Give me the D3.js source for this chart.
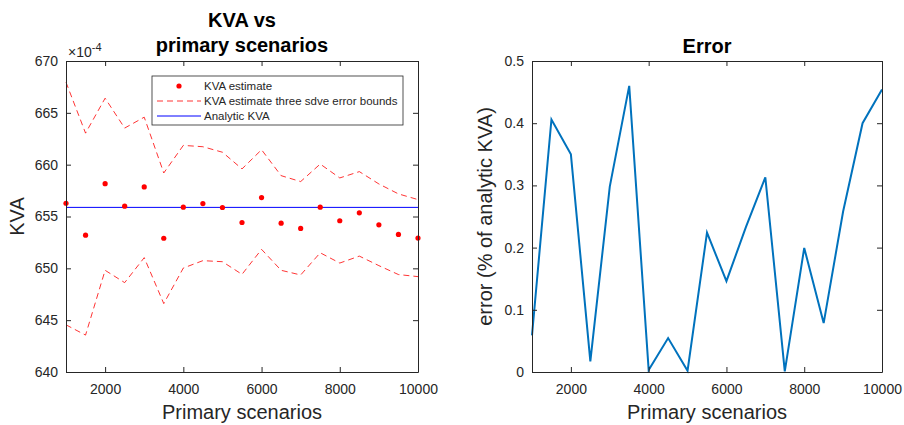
<!DOCTYPE html>
<meta charset="utf-8">
<head>
<script src="https://d3js.org/d3.v7.min.js"></script>
<style>
  body { margin: 0; background: #fff; }
  text { font-family: "Liberation Sans", Arial, sans-serif; }
</style>
</head>
<body>
<div id="chart"></div>
<script>
// data
var scenarios = [1000,1500,2000,2500,3000,3500,4000,4500,5000,5500,6000,6500,7000,7500,8000,8500,9000,9500,10000];
var kvaEstimate = [656.28,653.2,658.17,656.0,657.85,652.9,655.9,656.25,655.87,654.42,656.83,654.36,653.85,655.9,654.59,655.35,654.2,653.27,652.92];
var upperBound = [667.95,663.04,666.41,663.53,664.58,659.2,661.86,661.73,661.2,659.59,661.44,658.94,658.37,660.06,658.72,659.33,658.14,657.18,656.63];
var lowerBound = [644.55,643.56,649.81,648.62,651.03,646.6,650.03,650.74,650.64,649.42,651.83,649.81,649.36,651.5,650.51,651.18,650.26,649.4,649.2];
var analyticKVA = 655.88;
var errorPct = [0.059,0.406,0.350,0.017,0.298,0.460,0.003,0.0545,0.002,0.224,0.146,0.233,0.313,0.001,0.1995,0.0786,0.258,0.40,0.454];
var xTicks = [2000,4000,6000,8000,10000];
var kvaTicks = [640,645,650,655,660,665,670];
var errTicks = [0,0.1,0.2,0.3,0.4,0.5];

var svg = d3.select("#chart").append("svg")
  .attr("width", 904).attr("height", 425);

var axisColor = "#262626";

// matlab style box with inward ticks
function drawBox(g, x, y, xt, yt, yfmt) {
  var w = x.range()[1], h = y.range()[0];
  g.append("g").attr("transform", "translate(0," + h + ")")
    .call(d3.axisBottom(x).tickValues(xt).tickSizeInner(-5).tickSizeOuter(0).tickPadding(12).tickFormat(d3.format("d")));
  g.append("g").call(d3.axisTop(x).tickValues(xt).tickSizeInner(-5).tickSizeOuter(0).tickFormat(""));
  g.append("g")
    .call(d3.axisLeft(y).tickValues(yt).tickSizeInner(-5).tickSizeOuter(0).tickPadding(8).tickFormat(yfmt));
  g.append("g").attr("transform", "translate(" + w + ",0)")
    .call(d3.axisRight(y).tickValues(yt).tickSizeInner(-5).tickSizeOuter(0).tickFormat(""));
  g.selectAll(".domain").attr("stroke", axisColor).attr("stroke-width", 1);
  g.selectAll(".tick line").attr("stroke", axisColor);
  g.selectAll(".tick text").attr("fill", axisColor).style("font-size", "14px")
    .style("font-family", "Liberation Sans, Arial, sans-serif");
}

// ---------- left panel ----------
var L = {left: 66, top: 61, w: 352, h: 311};
var g1 = svg.append("g").attr("transform", "translate(" + L.left + "," + L.top + ")");
var x1 = d3.scaleLinear().domain([1000, 10000]).range([0, L.w]);
var y1 = d3.scaleLinear().domain([640, 670]).range([L.h, 0]);

var line1 = function(arr) {
  return d3.line().x(function(d, i) { return x1(scenarios[i]); }).y(function(d) { return y1(d); })(arr);
};

g1.append("path").attr("d", line1(upperBound)).attr("fill", "none")
  .attr("stroke", "#ff0000").attr("stroke-width", 0.8).attr("stroke-dasharray", "6,4");
g1.append("path").attr("d", line1(lowerBound)).attr("fill", "none")
  .attr("stroke", "#ff0000").attr("stroke-width", 0.8).attr("stroke-dasharray", "6,4");
g1.append("line")
  .attr("x1", x1(1000)).attr("x2", x1(10000))
  .attr("y1", y1(analyticKVA)).attr("y2", y1(analyticKVA))
  .attr("stroke", "#0000ff").attr("stroke-width", 1);
g1.selectAll(".pt").data(kvaEstimate).enter().append("circle")
  .attr("cx", function(d, i) { return x1(scenarios[i]); })
  .attr("cy", function(d) { return y1(d); })
  .attr("r", 2.6).attr("fill", "#ff0000");

drawBox(g1, x1, y1, xTicks, kvaTicks, d3.format("d"));

// exponent label
g1.append("text").attr("x", 2).attr("y", -4).attr("fill", axisColor)
  .style("font-size", "14px").text("\u00d710").append("tspan")
  .attr("dy", -6).style("font-size", "11px").text("-4");

// legend
var leg = g1.append("g").attr("transform", "translate(86,15)");
leg.append("rect").attr("width", 251).attr("height", 49).attr("fill", "#fff")
  .attr("stroke", axisColor).attr("stroke-width", 0.8);
leg.append("circle").attr("cx", 27).attr("cy", 10).attr("r", 2.6).attr("fill", "#ff0000");
leg.append("line").attr("x1", 5).attr("x2", 49).attr("y1", 25).attr("y2", 25)
  .attr("stroke", "#ff0000").attr("stroke-width", 0.8).attr("stroke-dasharray", "6,4");
leg.append("line").attr("x1", 5).attr("x2", 49).attr("y1", 40).attr("y2", 40)
  .attr("stroke", "#0000ff").attr("stroke-width", 1);
var legLabels = ["KVA estimate", "KVA estimate three sdve error bounds", "Analytic KVA"];
leg.selectAll(".lt").data(legLabels).enter().append("text")
  .attr("x", 52).attr("y", function(d, i) { return 14 + i * 15; })
  .attr("fill", axisColor).style("font-size", "11.5px").text(function(d) { return d; });

// titles and labels
g1.append("text").attr("x", L.w / 2).attr("y", -34).attr("text-anchor", "middle")
  .style("font-size", "20px").style("font-weight", "bold").attr("fill", "#000").text("KVA vs");
g1.append("text").attr("x", L.w / 2).attr("y", -9).attr("text-anchor", "middle")
  .style("font-size", "20px").style("font-weight", "bold").attr("fill", "#000").text("primary scenarios");
g1.append("text").attr("x", L.w / 2).attr("y", L.h + 47).attr("text-anchor", "middle")
  .style("font-size", "20px").attr("fill", axisColor).text("Primary scenarios");
g1.append("text").attr("transform", "translate(-42," + (L.h / 2) + ") rotate(-90)")
  .attr("text-anchor", "middle").style("font-size", "20px").attr("fill", axisColor).text("KVA");

// ---------- right panel ----------
var R = {left: 532, top: 61, w: 350, h: 311};
var g2 = svg.append("g").attr("transform", "translate(" + R.left + "," + R.top + ")");
var x2 = d3.scaleLinear().domain([1000, 10000]).range([0, R.w]);
var y2 = d3.scaleLinear().domain([0, 0.5]).range([R.h, 0]);

g2.append("path")
  .attr("d", d3.line().x(function(d, i) { return x2(scenarios[i]); }).y(function(d) { return y2(d); })(errorPct))
  .attr("fill", "none").attr("stroke", "#0072bd").attr("stroke-width", 2).attr("stroke-linejoin", "miter");

drawBox(g2, x2, y2, xTicks, errTicks, function(d) { return d === 0 ? "0" : d3.format(".1f")(d); });

g2.append("text").attr("x", R.w / 2).attr("y", -8).attr("text-anchor", "middle")
  .style("font-size", "20px").style("font-weight", "bold").attr("fill", "#000").text("Error");
g2.append("text").attr("x", R.w / 2).attr("y", R.h + 47).attr("text-anchor", "middle")
  .style("font-size", "20px").attr("fill", axisColor).text("Primary scenarios");
g2.append("text").attr("transform", "translate(-40," + (R.h / 2) + ") rotate(-90)")
  .attr("text-anchor", "middle").style("font-size", "20px").attr("fill", axisColor).text("error (% of analytic KVA)");
</script>
</body>
